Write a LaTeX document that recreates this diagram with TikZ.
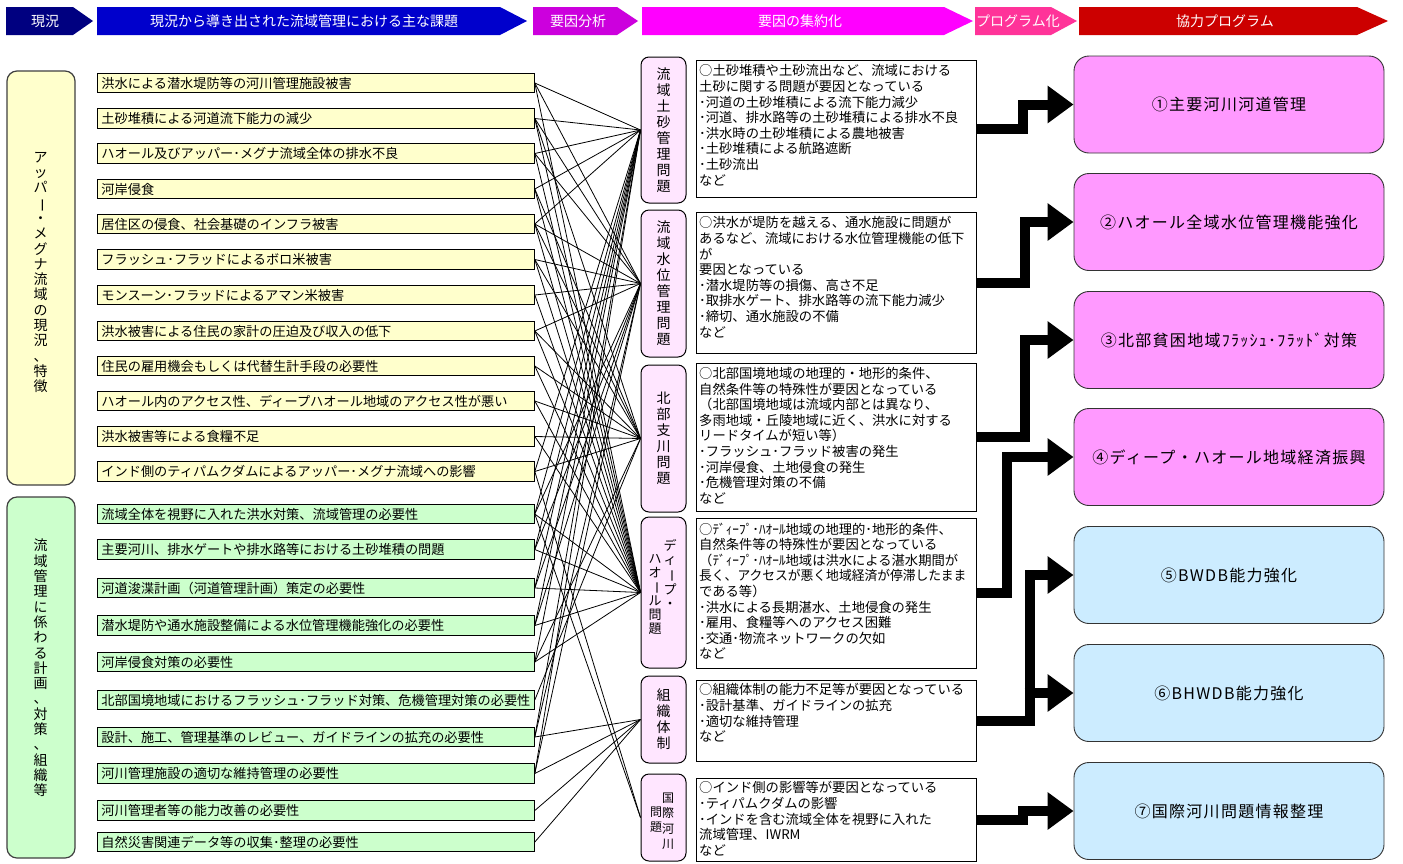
\documentclass[tikz,border=0pt]{standalone}
\usepackage{fontspec}
\usepackage{graphicx}
\setmainfont{Noto Sans CJK JP}
\newfontfamily\progfont{Noto Sans CJK JP}[LetterSpace=8]
\usetikzlibrary{arrows.meta,calc}

\definecolor{hdrNavy}{RGB}{0,0,128}
\definecolor{hdrBlue}{RGB}{0,0,204}
\definecolor{hdrPurple}{RGB}{204,0,221}
\definecolor{hdrMagenta}{RGB}{255,0,255}
\definecolor{hdrPink}{RGB}{255,51,153}
\definecolor{hdrRed}{RGB}{204,0,0}
\definecolor{itemYellow}{RGB}{255,255,204}
\definecolor{itemGreen}{RGB}{204,255,204}
\definecolor{catPink}{RGB}{255,230,255}
\definecolor{progPink}{RGB}{255,153,255}
\definecolor{progBlue}{RGB}{204,236,255}

% long vowel mark turned for vertical writing
\newcommand\vbar{\rotatebox[origin=c]{-90}{ー}}
% header arrow: x0, body end, tip, colour, text x, name, text
\newcommand\hdrarrow[7]{%
  \fill[#4] (#1,7) -- (#2,7) -- (#3,21) -- (#2,35) -- (#1,35) -- cycle;
  \node[hdrtext] (#6) at (#5,21) {#7};}

\begin{document}
\begin{tikzpicture}[x=1pt,y=-1pt,
  hdrtext/.style={text=white, inner sep=0pt, font=\fontsize{14}{16}\selectfont},
  group/.style={draw=black!75, line width=1.2pt, rounded corners=10pt, minimum width=68pt},
  grouptext/.style={align=center, inner sep=0pt, font=\fontsize{14}{15.3}\selectfont},
  issue/.style={draw=black, line width=0.8pt, minimum height=19.5pt, text width=429pt,
    inner xsep=4pt, inner ysep=0pt, align=left, anchor=west, font=\fontsize{13.2}{15}\selectfont},
  issueY/.style={issue, fill=itemYellow},
  issueG/.style={issue, fill=itemGreen},
  cat/.style={draw=black, line width=1pt, rounded corners=8pt, fill=catPink, minimum width=45pt,
    align=center, inner sep=0pt, font=\fontsize{14}{16}\selectfont},
  cattext/.style={align=center, inner sep=0pt},
  desc/.style={draw=black, line width=0.9pt, fill=white, minimum width=280pt, inner sep=0pt},
  desctext/.style={anchor=north west, inner sep=0pt, align=left, font=\fontsize{13.3}{15.6}\selectfont},
  prog/.style={draw=black!80, line width=0.9pt, rounded corners=15pt, minimum width=310pt,
    minimum height=97pt, font=\progfont\fontsize{16}{18}\selectfont},
  link/.style={line width=0.8pt},
  bigarrow/.style={line width=10pt, line join=miter, -{Triangle[length=26pt,width=36pt]}}
]
\useasboundingbox (0,0) rectangle (1403,863);
\fill[white] (0,0) rectangle (1403,863);

% ---- header band ----
\hdrarrow{6}{73}{93}{hdrNavy}{45}{h1}{現況}
\hdrarrow{97}{500}{527}{hdrBlue}{304}{h2}{現況から導き出された流域管理における主な課題}
\hdrarrow{533}{617}{638}{hdrPurple}{578}{h3}{要因分析}
\hdrarrow{642}{944}{973}{hdrMagenta}{800}{h4}{要因の集約化}
\hdrarrow{975}{1051}{1077}{hdrPink}{1018}{h5}{プログラム化}
\hdrarrow{1079}{1357}{1388}{hdrRed}{1225}{h6}{協力プログラム}

% ---- left groups ----
\node[group, fill=itemYellow, minimum height=414pt] (gY) at (41,278) {};
\node[grouptext] (gYt) at (40.5,272.5) {ア\\ッ\\パ\\\vbar\\・\\メ\\グ\\ナ\\流\\域\\の\\現\\況\\、\\特\\徴};
\node[group, fill=itemGreen, minimum height=361pt] (gG) at (41,677.5) {};
\node[grouptext] (gGt) at (40.5,668) {流\\域\\管\\理\\に\\係\\わ\\る\\計\\画\\、\\対\\策\\、\\組\\織\\等};

% ---- issues ----
\node[issueY] (i1) at (97,83) {洪水による潜水堤防等の河川管理施設被害};
\node[issueY] (i2) at (97,118.5) {土砂堆積による河道流下能力の減少};
\node[issueY] (i3) at (97,153.5) {ハオール及びアッパー･メグナ流域全体の排水不良};
\node[issueY] (i4) at (97,189) {河岸侵食};
\node[issueY] (i5) at (97,224) {居住区の侵食、社会基礎のインフラ被害};
\node[issueY] (i6) at (97,259.5) {フラッシュ･フラッドによるボロ米被害};
\node[issueY] (i7) at (97,295) {モンスーン･フラッドによるアマン米被害};
\node[issueY] (i8) at (97,331) {洪水被害による住民の家計の圧迫及び収入の低下};
\node[issueY] (i9) at (97,366) {住民の雇用機会もしくは代替生計手段の必要性};
\node[issueY] (i10) at (97,401) {ハオール内のアクセス性、ディープハオール地域のアクセス性が悪い};
\node[issueY] (i11) at (97,436.5) {洪水被害等による食糧不足};
\node[issueY] (i12) at (97,471.5) {インド側のティパムクダムによるアッパー･メグナ流域への影響};
\node[issueG] (i13) at (97,514) {流域全体を視野に入れた洪水対策、流域管理の必要性};
\node[issueG] (i14) at (97,549.5) {主要河川、排水ゲートや排水路等における土砂堆積の問題};
\node[issueG] (i15) at (97,588) {河道浚渫計画（河道管理計画）策定の必要性};
\node[issueG] (i16) at (97,625.5) {潜水堤防や通水施設整備による水位管理機能強化の必要性};
\node[issueG] (i17) at (97,662) {河岸侵食対策の必要性};
\node[issueG] (i18) at (97,700) {北部国境地域におけるフラッシュ･フラッド対策、危機管理対策の必要性};
\node[issueG] (i19) at (97,737) {設計、施工、管理基準のレビュー、ガイドラインの拡充の必要性};
\node[issueG] (i20) at (97,773.5) {河川管理施設の適切な維持管理の必要性};
\node[issueG] (i21) at (97,810.5) {河川管理者等の能力改善の必要性};
\node[issueG] (i22) at (97,842) {自然災害関連データ等の収集･整理の必要性};

% ---- factor categories ----
\node[cat, minimum height=146pt] (c1) at (663.5,130) {流\\域\\土\\砂\\管\\理\\問\\題};
\node[cat, minimum height=147pt] (c2) at (663.5,283.5) {流\\域\\水\\位\\管\\理\\問\\題};
\node[cat, minimum height=147pt] (c3) at (663.5,438.5) {北\\部\\支\\川\\問\\題};
\node[cat, minimum height=151pt] (c4) at (663.5,592.5) {};
\node[cattext, font=\fontsize{13}{14}\selectfont] (c4r) at (670,574) {デ\\ィ\\\vbar\\プ\\・};
\node[cattext, font=\fontsize{13}{14}\selectfont] (c4l) at (655,594) {ハ\\オ\\\vbar\\ル\\問\\題};
\node[cat, minimum height=87pt] (c5) at (663.5,719.5) {組\\織\\体\\制};
\node[cat, minimum height=87pt] (c6) at (663.5,817.5) {};
\node[cattext, font=\fontsize{12}{15.5}\selectfont] (c6r) at (668,821) {国\\際\\河\\川};
\node[cattext, font=\fontsize{12}{15.5}\selectfont] (c6l) at (656,819.5) {問\\題};

% ---- factor descriptions ----
\node[desc, minimum height=137pt] (d1) at (836,128.5) {};
\node[desctext] (d1t) at (699,64.5) {○土砂堆積や土砂流出など、流域における\\土砂に関する問題が要因となっている\\･河道の土砂堆積による流下能力減少\\･河道、排水路等の土砂堆積による排水不良\\･洪水時の土砂堆積による農地被害\\･土砂堆積による航路遮断\\･土砂流出\\など};
\node[desc, minimum height=141pt] (d2) at (836,282.5) {};
\node[desctext] (d2t) at (699,216.5) {○洪水が堤防を越える、通水施設に問題が\\あるなど、流域における水位管理機能の低下\\が\\要因となっている\\･潜水堤防等の損傷、高さ不足\\･取排水ゲート、排水路等の流下能力減少\\･締切、通水施設の不備\\など};
\node[desc, minimum height=148pt] (d3) at (836,437) {};
\node[desctext] (d3t) at (699,367) {○北部国境地域の地理的・地形的条件、\\自然条件等の特殊性が要因となっている\\（北部国境地域は流域内部とは異なり、\\多雨地域・丘陵地域に近く、洪水に対する\\リードタイムが短い等）\\･フラッシュ･フラッド被害の発生\\･河岸侵食、土地侵食の発生\\･危機管理対策の不備\\など};
\node[desc, minimum height=150pt] (d4) at (836,593) {};
\node[desctext] (d4t) at (699,522.5) {○ﾃﾞｨｰﾌﾟ･ﾊｵｰﾙ地域の地理的･地形的条件、\\自然条件等の特殊性が要因となっている\\（ﾃﾞｨｰﾌﾟ･ﾊｵｰﾙ地域は洪水による湛水期間が\\\scalebox{0.96}[1]{長く、アクセスが悪く地域経済が停滞したまま}\\である等）\\･洪水による長期湛水、土地侵食の発生\\･雇用、食糧等へのアクセス困難\\･交通･物流ネットワークの欠如\\など};
\node[desc, minimum height=81pt] (d5) at (836,720.5) {};
\node[desctext] (d5t) at (699,683.5) {○組織体制の能力不足等が要因となっている\\･設計基準、ガイドラインの拡充\\･適切な維持管理\\など};
\node[desc, minimum height=83pt] (d6) at (836,819.5) {};
\node[desctext] (d6t) at (699,781.5) {○インド側の影響等が要因となっている\\･ティパムクダムの影響\\･インドを含む流域全体を視野に入れた\\流域管理、IWRM\\など};

% ---- cooperation programmes ----
\node[prog, fill=progPink] (p1) at (1229,104.5) {①主要河川河道管理};
\node[prog, fill=progPink] (p2) at (1229,222) {②ハオール全域水位管理機能強化};
\node[prog, fill=progPink] (p3) at (1229,340) {③北部貧困地域ﾌﾗｯｼｭ･ﾌﾗｯﾄﾞ対策};
\node[prog, fill=progPink] (p4) at (1229,457) {④ディープ・ハオール地域経済振興};
\node[prog, fill=progBlue] (p5) at (1229,575) {⑤BWDB能力強化};
\node[prog, fill=progBlue] (p6) at (1229,693) {⑥BHWDB能力強化};
\node[prog, fill=progBlue] (p7) at (1229,811) {⑦国際河川問題情報整理};

% ---- issue to factor links ----
\foreach \i/\c in {1/1,1/2,1/4, 2/1,2/2,2/3,2/4, 3/1,3/2,3/4, 4/1,4/3,4/4,
  5/1,5/2,5/3,5/4, 6/2,6/3,6/4, 7/2,7/4, 8/2,8/3,8/4, 9/3,9/4, 10/3,10/4,
  11/3,11/4, 12/1,12/3,12/6, 13/1,13/2,13/4,13/6, 14/1,14/2,14/4,
  15/1,15/2,15/4, 16/1,16/2,16/4, 17/1,17/3,17/4, 18/3,
  19/1,19/2,19/5, 20/1,20/2,20/5, 21/5, 22/5}
  \draw[link] (i\i.east) -- (c\c.west);

% ---- factor to programme arrows ----
\draw[bigarrow] (d1.east) -| ($(p1.west)+(-51,0)$) -- (p1.west);
\draw[bigarrow] (d2.east) -| ($(p2.west)+(-49,0)$) -- (p2.west);
\draw[bigarrow] (d3.east) -| ($(p3.west)+(-49,0)$) -- (p3.west);
\draw[bigarrow] (d4.east) -| ($(p4.west)+(-67,0)$) -- (p4.west);
\draw[bigarrow] (d5.east) -| ($(p5.west)+(-44,0)$) -- (p5.west);
\draw[bigarrow] ($(p6.west)+(-49,0)$) -- (p6.west);
\draw[bigarrow] (d6.east) -| ($(p7.west)+(-51,0)$) -- (p7.west);
\end{tikzpicture}
\end{document}
